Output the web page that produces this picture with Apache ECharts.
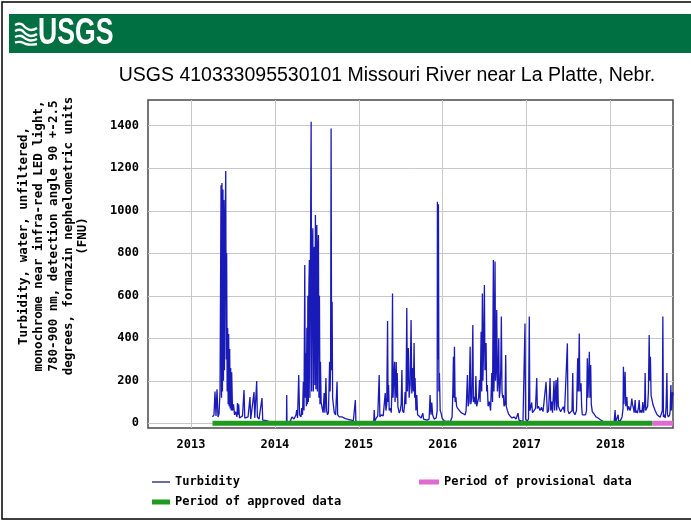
<!DOCTYPE html>
<html>
<head>
<meta charset="utf-8">
<script src="https://cdn.jsdelivr.net/npm/echarts@6/dist/echarts.min.js"></script>
<style>
  html, body { margin: 0; padding: 0; background: #fff; }
  #chart { width: 691px; height: 521px; }
</style>
</head>
<body>
<div id="chart"></div>
<script>
// Time stamps in decimal years, turbidity in FNU
const turbDates = [
  2013.256, 2013.274, 2013.286, 2013.298, 2013.310, 2013.322, 2013.334, 2013.346, 2013.358, 2013.364,
  2013.369, 2013.375, 2013.381, 2013.387, 2013.393, 2013.399, 2013.405, 2013.414, 2013.420, 2013.425,
  2013.431, 2013.437, 2013.443, 2013.449, 2013.455, 2013.461, 2013.467, 2013.473, 2013.479, 2013.485,
  2013.495, 2013.507, 2013.519, 2013.530, 2013.548, 2013.554, 2013.560, 2013.568, 2013.578, 2013.596,
  2013.614, 2013.632, 2013.641, 2013.656, 2013.680, 2013.703, 2013.712, 2013.727, 2013.751, 2013.760,
  2013.783, 2013.791, 2013.811, 2013.834, 2013.846, 2013.855, 2013.882, 2013.918, 2013.965, 2014.013,
  2014.061, 2014.108, 2014.138, 2014.141, 2014.144, 2014.180, 2014.204, 2014.228, 2014.252, 2014.260,
  2014.270, 2014.284, 2014.294, 2014.311, 2014.320, 2014.329, 2014.339, 2014.347, 2014.356, 2014.362,
  2014.368, 2014.375, 2014.381, 2014.387, 2014.393, 2014.399, 2014.405, 2014.411, 2014.417, 2014.423,
  2014.432, 2014.438, 2014.444, 2014.452, 2014.458, 2014.464, 2014.470, 2014.476, 2014.483, 2014.489,
  2014.495, 2014.500, 2014.506, 2014.512, 2014.519, 2014.525, 2014.531, 2014.537, 2014.543, 2014.551,
  2014.563, 2014.575, 2014.587, 2014.596, 2014.608, 2014.617, 2014.627, 2014.638, 2014.646, 2014.652,
  2014.658, 2014.664, 2014.670, 2014.676, 2014.682, 2014.688, 2014.697, 2014.708, 2014.724, 2014.741,
  2014.748, 2014.768, 2014.804, 2014.840, 2014.876, 2014.911, 2014.935, 2014.959, 2014.965, 2014.995,
  2015.042, 2015.090, 2015.137, 2015.178, 2015.184, 2015.190, 2015.208, 2015.226, 2015.243, 2015.251,
  2015.267, 2015.291, 2015.315, 2015.323, 2015.333, 2015.343, 2015.349, 2015.355, 2015.363, 2015.375,
  2015.387, 2015.394, 2015.402, 2015.408, 2015.416, 2015.426, 2015.432, 2015.440, 2015.446, 2015.452,
  2015.458, 2015.466, 2015.482, 2015.494, 2015.505, 2015.514, 2015.521, 2015.535, 2015.544, 2015.552,
  2015.562, 2015.572, 2015.579, 2015.591, 2015.600, 2015.612, 2015.623, 2015.632, 2015.644, 2015.651,
  2015.659, 2015.666, 2015.671, 2015.681, 2015.691, 2015.701, 2015.719, 2015.743, 2015.763, 2015.772,
  2015.790, 2015.814, 2015.838, 2015.850, 2015.860, 2015.870, 2015.880, 2015.898, 2015.922, 2015.934,
  2015.937, 2015.943, 2015.949, 2015.955, 2015.961, 2015.970, 2015.981, 2015.993, 2016.017, 2016.041,
  2016.065, 2016.089, 2016.106, 2016.112, 2016.121, 2016.128, 2016.134, 2016.140, 2016.148, 2016.157,
  2016.166, 2016.178, 2016.196, 2016.220, 2016.244, 2016.268, 2016.279, 2016.295, 2016.303, 2016.315,
  2016.327, 2016.335, 2016.347, 2016.359, 2016.366, 2016.375, 2016.387, 2016.395, 2016.405, 2016.419,
  2016.428, 2016.438, 2016.446, 2016.458, 2016.465, 2016.473, 2016.479, 2016.487, 2016.497, 2016.504,
  2016.511, 2016.517, 2016.524, 2016.532, 2016.541, 2016.556, 2016.571, 2016.585, 2016.594, 2016.604,
  2016.611, 2016.617, 2016.624, 2016.630, 2016.636, 2016.644, 2016.652, 2016.660, 2016.668, 2016.675,
  2016.683, 2016.692, 2016.699, 2016.707, 2016.714, 2016.723, 2016.731, 2016.743, 2016.751, 2016.758,
  2016.770, 2016.784, 2016.802, 2016.826, 2016.850, 2016.874, 2016.897, 2016.909, 2016.933, 2016.957,
  2016.976, 2016.981, 2016.988, 2017.005, 2017.023, 2017.032, 2017.039, 2017.052, 2017.061, 2017.070,
  2017.088, 2017.106, 2017.121, 2017.128, 2017.142, 2017.160, 2017.178, 2017.196, 2017.208, 2017.232,
  2017.240, 2017.247, 2017.262, 2017.280, 2017.288, 2017.300, 2017.309, 2017.327, 2017.334, 2017.351,
  2017.359, 2017.371, 2017.378, 2017.387, 2017.405, 2017.422, 2017.438, 2017.452, 2017.470, 2017.486,
  2017.493, 2017.506, 2017.524, 2017.541, 2017.550, 2017.557, 2017.577, 2017.595, 2017.609, 2017.616,
  2017.628, 2017.635, 2017.649, 2017.656, 2017.664, 2017.684, 2017.702, 2017.714, 2017.724, 2017.731,
  2017.738, 2017.748, 2017.755, 2017.764, 2017.771, 2017.783, 2017.803, 2017.827, 2017.851, 2017.875,
  2017.899, 2017.923, 2017.959, 2017.995, 2018.019, 2018.043, 2018.055, 2018.061, 2018.079, 2018.091,
  2018.097, 2018.121, 2018.138, 2018.150, 2018.154, 2018.160, 2018.168, 2018.174, 2018.182, 2018.195,
  2018.204, 2018.216, 2018.226, 2018.234, 2018.244, 2018.254, 2018.262, 2018.274, 2018.282, 2018.294,
  2018.301, 2018.312, 2018.321, 2018.332, 2018.342, 2018.350, 2018.362, 2018.375, 2018.386, 2018.395,
  2018.407, 2018.413, 2018.420, 2018.429, 2018.443, 2018.452, 2018.461, 2018.468, 2018.476, 2018.484,
  2018.496, 2018.508, 2018.520, 2018.532, 2018.544, 2018.556, 2018.568, 2018.592, 2018.610, 2018.618,
  2018.624, 2018.631, 2018.640, 2018.652, 2018.663, 2018.672, 2018.679, 2018.691, 2018.705, 2018.711,
  2018.720, 2018.727, 2018.735, 2018.739, 2018.745
];
const turbValues = [
  30, 40, 150, 35, 160, 30, 45, 150, 1120, 120,
  1130, 150, 1100, 200, 1050, 250, 850, 1187, 300, 800,
  150, 448, 90, 420, 80, 350, 70, 260, 60, 240,
  60, 90, 40, 55, 30, 95, 40, 90, 25, 20,
  35, 157, 25, 18, 30, 124, 20, 25, 147, 25,
  199, 30, 20, 18, 119, 15, 14, 10, 5, 3,
  3, 4, 5, 133, 5, 8, 30, 20, 40, 62,
  25, 227, 40, 30, 72, 40, 196, 60, 745, 120,
  330, 80, 450, 90, 600, 100, 636, 768, 120, 700,
  1419, 150, 750, 918, 150, 800, 831, 180, 980, 160,
  850, 933, 150, 800, 886, 120, 600, 90, 290, 100,
  72, 50, 142, 50, 213, 60, 40, 50, 180, 290,
  150, 280, 1387, 250, 572, 120, 86, 50, 40, 196,
  40, 30, 30, 22, 18, 15, 12, 110, 10, 5,
  6, 4, 5, 6, 62, 8, 25, 35, 227, 30,
  40, 35, 142, 60, 90, 481, 100, 180, 60, 72,
  50, 150, 611, 120, 200, 290, 100, 200, 288, 120,
  237, 80, 48, 60, 90, 251, 60, 50, 80, 147,
  90, 542, 150, 354, 120, 180, 486, 140, 260, 150,
  378, 120, 213, 60, 133, 40, 31, 25, 48, 20,
  18, 15, 20, 133, 40, 98, 40, 20, 25, 60,
  1042, 300, 1030, 150, 237, 60, 48, 25, 12, 8,
  10, 6, 8, 30, 150, 313, 120, 360, 100, 124,
  80, 70, 62, 50, 45, 40, 60, 227, 80, 100,
  360, 90, 120, 462, 100, 124, 90, 222, 80, 86,
  120, 204, 100, 431, 150, 611, 200, 350, 651, 250,
  300, 378, 150, 180, 80, 102, 60, 237, 100, 768,
  150, 300, 761, 200, 250, 533, 150, 200, 400, 120,
  150, 250, 502, 150, 120, 133, 80, 90, 321, 80,
  62, 45, 35, 25, 30, 20, 48, 15, 12, 10,
  15, 470, 20, 10, 20, 502, 60, 80, 98, 50,
  60, 70, 213, 70, 80, 60, 75, 55, 60, 194,
  188, 50, 60, 213, 60, 102, 50, 199, 60, 204,
  60, 215, 80, 86, 55, 60, 78, 50, 55, 376,
  60, 45, 50, 60, 237, 55, 40, 60, 306, 150,
  423, 150, 188, 80, 40, 35, 40, 60, 306, 120,
  200, 337, 120, 274, 90, 55, 45, 30, 25, 18,
  12, 6, 4, 5, 4, 5, 62, 6, 5, 40,
  8, 15, 30, 70, 266, 90, 180, 243, 80, 124,
  60, 80, 86, 60, 80, 117, 90, 70, 50, 110,
  50, 60, 48, 70, 110, 50, 62, 50, 100, 50,
  90, 237, 60, 55, 80, 150, 415, 200, 313, 130,
  124, 86, 80, 60, 50, 40, 31, 28, 30, 60,
  502, 30, 40, 25, 80, 237, 40, 30, 40, 60,
  180, 60, 100, 147, 130
];

// Data-approval periods (decimal years)
const approvedPeriod = [2013.256, 2018.500];
const provisionalPeriod = [2018.500, 2018.745];

// Axis extents and tick labels
const xRange = [2012.4875, 2018.745];
const yearTicks = [2013, 2014, 2015, 2016, 2017, 2018];
const yRange = [-22, 1521];
const valueTicks = [0, 200, 400, 600, 800, 1000, 1200, 1400];

const monoFont = '"DejaVu Sans Mono", monospace';
const legendText = { fontFamily: monoFont, fontWeight: 'bold', fontSize: 12, color: '#000' };

const chart = echarts.init(document.getElementById('chart'), null, { renderer: 'canvas' });

const turbSeriesData = turbDates.map((d, i) => [d, turbValues[i]]);

// Wavy strokes of the agency emblem
const waveLines = [
  [[0, 2], [6, 1], [11, 5], [16, 7], [22, 5]],
  [[0, 8], [6, 7], [11, 11], [16, 13], [22, 11]],
  [[0, 14], [6, 13], [11, 16], [16, 17.5], [22, 16]],
  [[0, 19.5], [6, 19], [11, 21], [16, 21.6], [22, 21]]
];

const option = {
  animation: false,
  backgroundColor: '#ffffff',
  grid: {
    left: 148, top: 100, right: 18, bottom: 93,
    show: true, borderColor: '#4a4a4a', borderWidth: 1.5, backgroundColor: '#ffffff'
  },
  xAxis: {
    type: 'value',
    min: xRange[0], max: xRange[1],
    axisLine: { show: false },
    axisTick: { show: false, customValues: yearTicks },
    axisLabel: {
      customValues: yearTicks,
      formatter: v => String(Math.round(v)),
      color: '#000', fontFamily: monoFont, fontWeight: 'bold', fontSize: 12, margin: 11
    },
    splitLine: { show: true, lineStyle: { color: '#c8c8c8', width: 1 } }
  },
  yAxis: {
    type: 'value',
    min: yRange[0], max: yRange[1],
    axisLine: { show: false },
    axisTick: { show: false, customValues: valueTicks },
    axisLabel: {
      customValues: valueTicks,
      formatter: v => String(v),
      color: '#000', fontFamily: monoFont, fontWeight: 'bold', fontSize: 12, margin: 9
    },
    splitLine: { show: true, lineStyle: { color: '#c8c8c8', width: 1 } }
  },
  legend: [
    {
      left: 152, top: 476, padding: 0,
      itemWidth: 18, itemHeight: 1.5,
      textStyle: legendText,
      data: [{ name: 'Turbidity', icon: 'rect', itemStyle: { color: '#3a3a8c' } }]
    },
    {
      left: 152, top: 496, padding: 0,
      itemWidth: 18, itemHeight: 5,
      textStyle: legendText,
      data: [{ name: 'Period of approved data', icon: 'rect' }]
    },
    {
      left: 419, top: 476, padding: 0,
      itemWidth: 20, itemHeight: 5,
      textStyle: legendText,
      data: [{ name: 'Period of provisional data', icon: 'rect' }]
    }
  ],
  series: [
    {
      name: 'Turbidity',
      type: 'line',
      data: turbSeriesData,
      symbol: 'none',
      color: '#3a3a8c',
      lineStyle: { color: '#1a1ab8', width: 1.3 },
      z: 2
    },
    {
      name: 'Period of approved data',
      type: 'line',
      data: approvedPeriod.map(d => [d, 0]),
      symbol: 'none',
      color: '#1f9a1f',
      lineStyle: { color: '#1f9a1f', width: 5 },
      z: 3
    },
    {
      name: 'Period of provisional data',
      type: 'line',
      data: provisionalPeriod.map(d => [d, 0]),
      symbol: 'none',
      color: '#e06ad0',
      lineStyle: { color: '#e06ad0', width: 5 },
      z: 3
    }
  ],
  graphic: [
    // outer frame
    { type: 'rect', shape: { x: 2, y: 2, width: 700, height: 517 }, style: { fill: 'none', stroke: '#000', lineWidth: 1.5 }, z: 10 },
    // agency banner
    { type: 'rect', shape: { x: 9, y: 14, width: 690, height: 39 }, style: { fill: '#006f41' }, z: 10 },
    // wave emblem
    {
      type: 'group', x: 15, y: 23, z: 11,
      children: waveLines.map(pts => ({
        type: 'polyline', shape: { points: pts, smooth: 0.5 },
        style: { fill: 'none', stroke: '#fff', lineWidth: 2.4 }, z: 11
      }))
    },
    {
      type: 'text', x: 38, y: 34, scaleX: 0.74, z: 11,
      style: {
        text: 'USGS', fill: '#fff',
        font: 'bold 36px "Liberation Sans", Arial, sans-serif',
        verticalAlign: 'middle'
      }
    },
    // chart title
    {
      type: 'text', x: 387, y: 76, z: 11,
      style: {
        text: 'USGS 410333095530101 Missouri River near La Platte, Nebr.',
        fill: '#000', font: '19.5px "Liberation Sans", Arial, sans-serif',
        align: 'center', verticalAlign: 'middle'
      }
    },
    // y-axis title
    {
      type: 'text', x: 53.5, y: 236, rotation: Math.PI / 2, z: 11,
      style: {
        text: 'Turbidity, water, unfiltered,\nmonochrome near infra-red LED light,\n780-900 nm, detection angle 90 +-2.5\ndegrees, formazin nephelometric units\n(FNU)',
        fill: '#000', font: 'bold 12.5px "DejaVu Sans Mono", monospace',
        lineHeight: 14.8, align: 'center', verticalAlign: 'middle'
      }
    }
  ]
};

chart.setOption(option);
</script>
</body>
</html>
